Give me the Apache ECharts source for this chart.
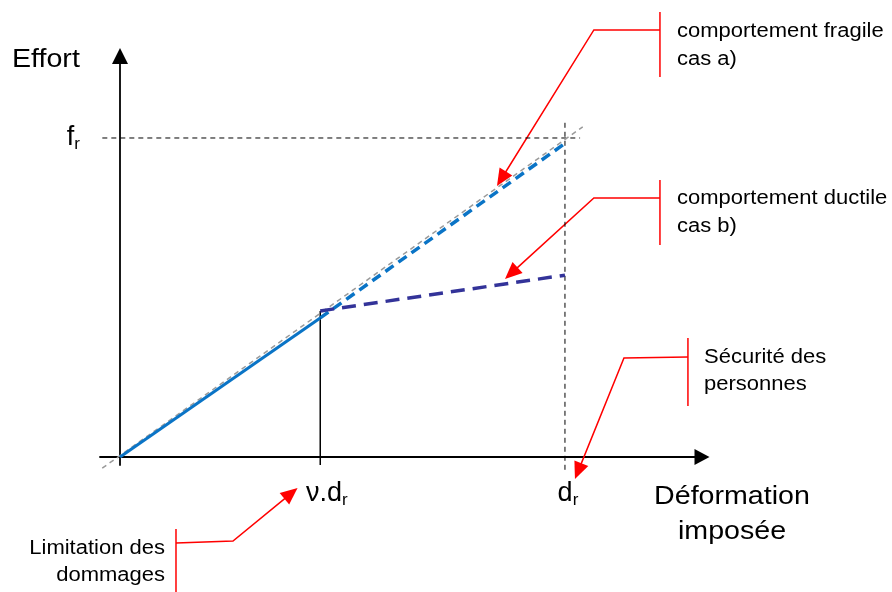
<!DOCTYPE html>
<html><head><meta charset="utf-8">
<script src="https://cdn.jsdelivr.net/npm/echarts@6/dist/echarts.min.js"></script>
<style>html,body{margin:0;padding:0;background:#fff}#c{width:892px;height:592px}</style>
</head><body><div id="c"></div>
<script>
// ---- Data (deformation in tenths of d_r, effort in tenths of f_r) ----
const drValue = 10;
const frValue = 10;
const nuDrValue = 4.5;
const elasticX = [0, 4.5];
const elasticY = [0, 4.36];
const fragileX = [4.5, 10.04];
const fragileY = [4.36, 9.87];
const ductileX = [4.5, 10];
const ductileY = [4.58, 5.7];
const refLineX = [-0.4, 10.4];
const refLineY = [-0.35, 10.35];
const frGuideX = [-0.6, 10.34];
const drGuideY = [-0.4, 10.56];
const nuGuideY = [-0.25, 4.58];
const xTickValues = [4.5, 10];
const xTickLabels = ['ν.d', 'd'];
const yTickValues = [10];
const yTickLabels = ['f'];
const tickSubscript = 'r';

// callout anchors (data units)
const calloutBrackets = [
  [[12.135, 13.95], [12.135, 11.91]],
  [[12.135, 8.683], [12.135, 6.646]],
  [[12.764, 3.73], [12.764, 1.599]],
  [[1.258, -2.257], [1.258, -4.3]]
];
const calloutPaths = [
  [[12.135, 13.386], [10.65, 13.386], [8.472, 8.495]],
  [[12.135, 8.119], [10.65, 8.119], [8.652, 5.58]],
  [[12.764, 3.135], [11.326, 3.103], [10.225, -0.69]],
  [[1.258, -2.696], [2.539, -2.633], [3.99, -0.972]]
];

const zip = (a, b) => a.map((v, i) => [v, b[i]]);
const FONT = '"Liberation Sans", Arial, sans-serif';
const RED = '#ff0000';

const chart = echarts.init(document.getElementById('c'), null, {renderer: 'canvas'});

function renderCallout(params, api) {
  const i = params.dataIndex;
  const bracket = calloutBrackets[i].map(p => api.coord(p));
  const path = calloutPaths[i].map(p => api.coord(p));
  const tip = path[path.length - 1];
  const prev = path[path.length - 2];
  const dx = tip[0] - prev[0], dy = tip[1] - prev[1];
  const len = Math.hypot(dx, dy);
  const ux = dx / len, uy = dy / len;
  const L = 17, W = 7.5;
  const base = [tip[0] - ux * L, tip[1] - uy * L];
  const left = [base[0] - uy * W, base[1] + ux * W];
  const right = [base[0] + uy * W, base[1] - ux * W];
  const pts = path.slice(0, -1).concat([[tip[0] - ux * (L - 2), tip[1] - uy * (L - 2)]]);
  return {
    type: 'group',
    children: [
      {type: 'polyline', shape: {points: bracket}, style: {stroke: RED, lineWidth: 1.5, fill: 'none'}},
      {type: 'polyline', shape: {points: pts}, style: {stroke: RED, lineWidth: 1.5, fill: 'none'}},
      {type: 'polygon', shape: {points: [tip, left, right]}, style: {fill: RED, stroke: 'none'}}
    ]
  };
}

const rich = {
  m: {fontSize: 27, fontFamily: FONT, color: '#000', lineHeight: 30},
  a: {fontSize: 27, fontFamily: FONT, color: '#000', lineHeight: 30, padding: [0, 0, 0, 13]},
  b: {fontSize: 27, fontFamily: FONT, color: '#000', lineHeight: 30, padding: [0, 0, 0, 6]},
  s: {fontSize: 17, fontFamily: FONT, color: '#000', lineHeight: 16, verticalAlign: 'bottom'}
};

function txt(text, x, y, size, align) {
  return {
    type: 'text', x: x, y: y, scaleX: 1.1, silent: true,
    style: {
      text: text, font: size + 'px ' + FONT, fill: '#000',
      align: align || 'left', verticalAlign: 'middle',
      textAlign: align || 'left', textVerticalAlign: 'middle'
    }
  };
}

const option = {
  animation: false,
  backgroundColor: '#fff',
  grid: {left: 100, right: 190, top: 56, bottom: 127, containLabel: false},
  xAxis: {
    type: 'value', min: -0.45, max: 13.08,
    splitLine: {show: false},
    axisTick: {show: false},
    axisLine: {show: true, onZero: true, lineStyle: {color: '#000', width: 1.8},
      symbol: ['none', 'triangle'], symbolSize: [16, 15]},
    axisLabel: {
      customValues: xTickValues, margin: 14, rich: rich,
      formatter: v => {
        const i = xTickValues.indexOf(v);
        return i < 0 ? '' : '{' + (i === 0 ? 'a' : 'b') + '|' + xTickLabels[i] + '}{s|' + tickSubscript + '}';
      }
    }
  },
  yAxis: {
    type: 'value', min: -0.25, max: 12.57,
    splitLine: {show: false},
    axisTick: {show: false},
    axisLine: {show: true, onZero: true, lineStyle: {color: '#000', width: 1.8},
      symbol: ['none', 'triangle'], symbolSize: [16, 16]},
    axisLabel: {
      customValues: yTickValues, margin: 20, rich: rich,
      formatter: v => {
        const i = yTickValues.indexOf(v);
        return i < 0 ? '' : '{m|' + yTickLabels[i] + '}{s|' + tickSubscript + '}';
      }
    }
  },
  series: [
    {type: 'line', data: zip(frGuideX, [frValue, frValue]), showSymbol: false, silent: true, clip: false,
      lineStyle: {color: '#000', width: 1, type: [5, 4]}},
    {type: 'line', data: zip([drValue, drValue], drGuideY), showSymbol: false, silent: true, clip: false,
      lineStyle: {color: '#000', width: 1, type: [5, 4]}},
    {type: 'line', data: zip([nuDrValue, nuDrValue], nuGuideY), showSymbol: false, silent: true, clip: false,
      lineStyle: {color: '#000', width: 1.5}},
    {type: 'line', data: zip(refLineX, refLineY), showSymbol: false, silent: true, clip: false,
      lineStyle: {color: '#9a9a9a', width: 1.5, type: [5, 4]}},
    {type: 'line', data: zip(elasticX, elasticY), showSymbol: false, silent: true, clip: false,
      lineStyle: {color: '#0a74c6', width: 3}},
    {type: 'line', data: zip(fragileX, fragileY), showSymbol: false, silent: true, clip: false,
      lineStyle: {color: '#0a74c6', width: 3.5, type: [10, 6]}},
    {type: 'line', data: zip(ductileX, ductileY), showSymbol: false, silent: true, clip: false,
      lineStyle: {color: '#333399', width: 3.5, type: [14, 8]}},
    {type: 'custom', renderItem: renderCallout, silent: true, clip: false,
      data: calloutPaths.map((p, i) => [p[0][0], p[0][1]])}
  ],
  graphic: [
    txt('Effort', 12, 60, 26),
    txt('Déformation', 732, 497, 26, 'center'),
    txt('imposée', 732, 532, 26, 'center'),
    txt('comportement fragile', 677, 31, 20),
    txt('cas a)', 677, 59, 20),
    txt('comportement ductile', 677, 198, 20),
    txt('cas b)', 677, 226, 20),
    txt('Sécurité des', 704, 357, 20),
    txt('personnes', 704, 384, 20),
    txt('Limitation des', 165, 548, 20, 'right'),
    txt('dommages', 165, 575, 20, 'right')
  ]
};
chart.setOption(option);
</script>
</body></html>
